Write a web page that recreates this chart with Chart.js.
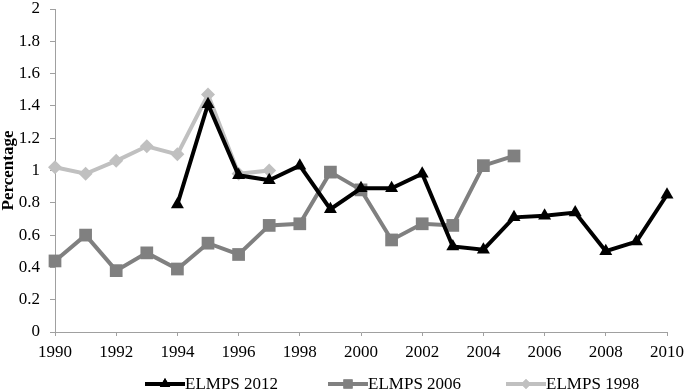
<!DOCTYPE html>
<html lang="en">
<head>
  <meta charset="UTF-8" />
  <title>ELMPS percentage by year</title>
  <script src="https://cdn.jsdelivr.net/npm/chart.js"></script>
  <style>
    * { margin: 0; padding: 0; box-sizing: border-box; }
    body { background: #ffffff; }
    .wrap { position: relative; width: 685px; height: 392px; overflow: hidden; }
    .legend {
      position: absolute;
      top: 375px;
      left: 145px;
      display: flex;
      font-family: 'Liberation Serif', serif;
      font-size: 17px;
      line-height: 17px;
      color: #000;
    }
    .legend .item { display: flex; align-items: center; white-space: nowrap; }
    .legend canvas { display: block; }
  </style>
</head>
<body>
  <div class="wrap">
    <canvas id="chart"></canvas>
    <div class="legend" id="legend"></div>
  </div>

  <script>
    const years = [1990, 1991, 1992, 1993, 1994, 1995, 1996, 1997, 1998, 1999, 2000,
                   2001, 2002, 2003, 2004, 2005, 2006, 2007, 2008, 2009, 2010];

    const elmps2012 = [null, null, null, null, 0.79, 1.41, 0.97, 0.94, 1.03, 0.76, 0.89,
                       0.89, 0.98, 0.53, 0.51, 0.71, 0.72, 0.74, 0.50, 0.56, 0.85];
    const elmps2006 = [0.44, 0.60, 0.38, 0.49, 0.39, 0.55, 0.48, 0.66, 0.67, 0.99, 0.88,
                       0.57, 0.67, 0.66, 1.03, 1.09, null, null, null, null, null];
    const elmps1998 = [1.02, 0.98, 1.06, 1.15, 1.10, 1.47, 0.98, 1.00, null, null, null,
                       null, null, null, null, null, null, null, null, null, null];

    const seriesNames = ['ELMPS 2012', 'ELMPS 2006', 'ELMPS 1998'];
    const yTitle = 'Percentage';

    const font = 'Liberation Serif';
    const axisGrey = '#a0a0a0';

    const styles = [
      { color: '#000000', point: 'triangle', r: 7.5, legendR: 6 },
      { color: '#808080', point: 'rect', r: 9, legendR: 6.5 },
      { color: '#c0c0c0', point: 'rectRot', r: 7, legendR: 5 }
    ];
    const allData = [elmps2012, elmps2006, elmps1998];

    function toPoints(vals) {
      return years.map((yr, i) => ({ x: yr, y: vals[i] }));
    }

    const ctx = document.getElementById('chart').getContext('2d');
    const chart = new Chart(ctx, {
      type: 'line',
      data: {
        datasets: allData.map((vals, i) => ({
          label: seriesNames[i],
          data: toPoints(vals),
          borderColor: styles[i].color,
          backgroundColor: styles[i].color,
          borderWidth: 4,
          pointStyle: styles[i].point,
          pointRadius: styles[i].r,
          pointBorderWidth: 0,
          tension: 0,
          spanGaps: false,
          clip: false
        }))
      },
      options: {
        responsive: true,
        maintainAspectRatio: false,
        animation: false,
        layout: { padding: { top: 6, right: 0, bottom: 0, left: 0 } },
        plugins: {
          tooltip: { enabled: false },
          legend: { display: false }
        },
        scales: {
          x: {
            type: 'linear',
            min: 1990,
            max: 2010,
            afterFit: (s) => { s.height = 60; s.paddingRight = 18; },
            border: { color: axisGrey, width: 1 },
            grid: { drawOnChartArea: false, drawTicks: true, tickLength: 4, color: axisGrey },
            ticks: {
              stepSize: 2,
              color: '#000',
              font: { family: font, size: 17 },
              maxRotation: 0,
              padding: 6,
              callback: (v) => String(v)
            }
          },
          y: {
            min: 0,
            max: 2,
            afterFit: (s) => { s.width = 55; s.paddingTop = 0; },
            border: { color: axisGrey, width: 1 },
            grid: { drawOnChartArea: false, drawTicks: true, tickLength: 5, color: axisGrey },
            title: {
              display: true,
              text: yTitle,
              color: '#000',
              font: { family: font, size: 17, weight: 'bold', lineHeight: 1 },
              padding: 0
            },
            ticks: {
              stepSize: 0.2,
              color: '#000',
              font: { family: font, size: 17 },
              padding: 10,
              callback: (v) => String(Math.round(v * 10) / 10)
            }
          }
        }
      }
    });

    // legend below the chart: line with marker, then the series name
    const legendEl = document.getElementById('legend');
    const gaps = [0, 50, 45];
    seriesNames.forEach((name, i) => {
      const item = document.createElement('div');
      item.className = 'item';
      item.style.marginLeft = gaps[i] + 'px';
      const c = document.createElement('canvas');
      c.width = 40; c.height = 16;
      const g = c.getContext('2d');
      g.strokeStyle = styles[i].color;
      g.fillStyle = styles[i].color;
      g.lineWidth = 4;
      g.beginPath(); g.moveTo(0, 8); g.lineTo(40, 8); g.stroke();
      Chart.helpers.drawPoint(g, { pointStyle: styles[i].point, radius: styles[i].legendR, rotation: 0, borderWidth: 0 }, 20, 8);
      g.fill();
      const t = document.createElement('span');
      t.textContent = name;
      item.appendChild(c);
      item.appendChild(t);
      legendEl.appendChild(item);
    });
  </script>
</body>
</html>
